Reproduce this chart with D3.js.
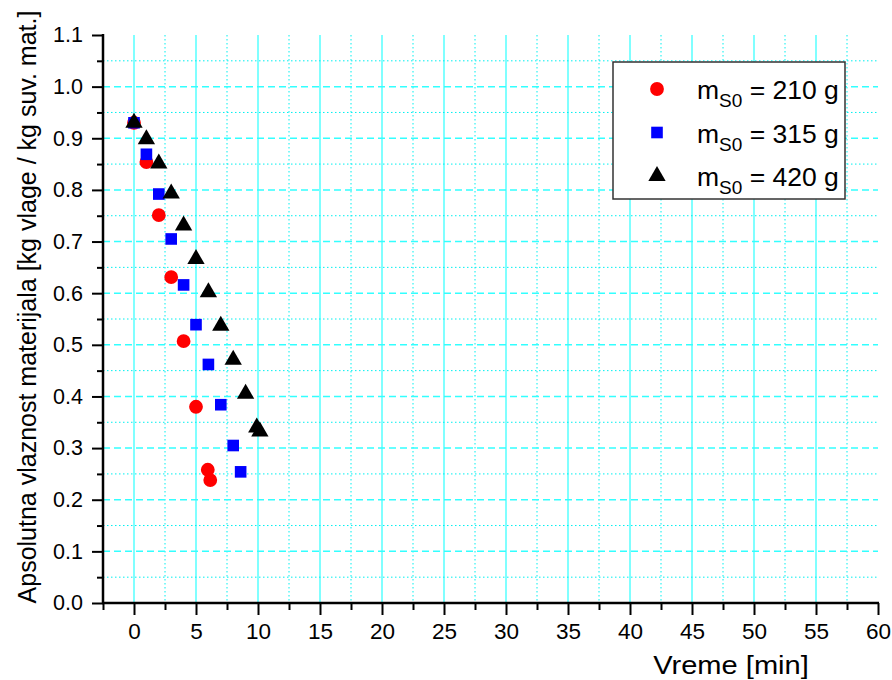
<!DOCTYPE html>
<html>
<head>
<meta charset="utf-8">
<script src="https://cdn.jsdelivr.net/npm/d3@7"></script>
<style>
  body { margin: 0; background: #fff; }
  text { font-family: Arial, "Liberation Sans", sans-serif; }
</style>
</head>
<body>
<div class="chart"></div>
<script>
// Data.
var time210 = [0, 1, 2, 3, 4, 5, 5.95, 6.15];
var moist210 = [0.93, 0.854, 0.751, 0.631, 0.507, 0.380, 0.258, 0.238];

var time315 = [0, 1, 2, 3, 4, 5, 6, 7, 8, 8.6];
var moist315 = [0.93, 0.869, 0.792, 0.705, 0.616, 0.539, 0.462, 0.384, 0.305, 0.254];

var time420 = [0, 1, 2, 3, 4, 5, 6, 7, 8, 9, 9.9, 10.15];
var moist420 = [0.93, 0.898, 0.851, 0.793, 0.731, 0.666, 0.602, 0.537, 0.471, 0.405, 0.340, 0.332];

var seriesNames = ["210 g", "315 g", "420 g"];
var xTicks = [0, 5, 10, 15, 20, 25, 30, 35, 40, 45, 50, 55, 60];
var yTicks = [0.0, 0.1, 0.2, 0.3, 0.4, 0.5, 0.6, 0.7, 0.8, 0.9, 1.0, 1.1];

// Define SVG dimensions.
var w = 892,
    h = 680;

var plotLeft = 103, plotRight = 878, plotTop = 35, plotBottom = 603;

var svg = d3.select(".chart").append("svg")
  .attr("width", w)
  .attr("height", h);

var xScale = d3.scaleLinear()
  .domain([-2.5, 60])
  .range([plotLeft, plotRight]);

var yScale = d3.scaleLinear()
  .domain([0, 1.1])
  .range([plotBottom, plotTop]);

var xMinor = d3.range(-2.5, 60, 5);
var yMinor = d3.range(0.05, 1.1, 0.1);

// Grid lines.
var grid = svg.append("g");

grid.selectAll(".vmin")
  .data(xMinor.filter(function(d) { return d > 0; }))
  .enter().append("line")
  .attr("x1", function(d) { return xScale(d); })
  .attr("x2", function(d) { return xScale(d); })
  .attr("y1", plotTop)
  .attr("y2", plotBottom)
  .attr("stroke", "#00f0f0")
  .attr("stroke-width", 1)
  .attr("stroke-dasharray", "1.5,2.5");

grid.selectAll(".vmaj")
  .data(xTicks.filter(function(d) { return d < 60; }))
  .enter().append("line")
  .attr("x1", function(d) { return xScale(d); })
  .attr("x2", function(d) { return xScale(d); })
  .attr("y1", plotTop)
  .attr("y2", plotBottom)
  .attr("stroke", "#80ffff")
  .attr("stroke-width", 2);

grid.selectAll(".hmin")
  .data(yMinor)
  .enter().append("line")
  .attr("x1", plotLeft)
  .attr("x2", plotRight)
  .attr("y1", function(d) { return yScale(d); })
  .attr("y2", function(d) { return yScale(d); })
  .attr("stroke", "#00f0f0")
  .attr("stroke-width", 1)
  .attr("stroke-dasharray", "1.5,2.5");

grid.selectAll(".hmaj")
  .data(yTicks.filter(function(d) { return d > 0 && d < 1.1; }))
  .enter().append("line")
  .attr("x1", plotLeft)
  .attr("x2", plotRight)
  .attr("y1", function(d) { return yScale(d); })
  .attr("y2", function(d) { return yScale(d); })
  .attr("stroke", "#33ffff")
  .attr("stroke-width", 1.5)
  .attr("stroke-dasharray", "7,4");

// Axes.
var xAxis = d3.axisBottom(xScale)
  .tickValues(xTicks)
  .tickSize(12)
  .tickPadding(8)
  .tickFormat(d3.format("d"));

var xAxisMinor = d3.axisBottom(xScale)
  .tickValues(xMinor)
  .tickSize(7)
  .tickFormat("");

var yAxis = d3.axisLeft(yScale)
  .tickValues(yTicks)
  .tickSize(11)
  .tickPadding(9)
  .tickFormat(d3.format(".1f"));

var yAxisMinor = d3.axisLeft(yScale)
  .tickValues(yMinor)
  .tickSize(6)
  .tickFormat("");

function styleAxis(size) {
  return function(g) {
    g.select(".domain").remove();
    g.selectAll("line").attr("stroke", "#000").attr("stroke-width", 2);
    g.selectAll("text")
      .attr("fill", "#000")
      .style("font-family", "Arial, 'Liberation Sans', sans-serif")
      .style("font-size", size + "px");
  };
}

svg.append("g")
  .attr("transform", "translate(0," + plotBottom + ")")
  .call(xAxisMinor).call(styleAxis(22));
svg.append("g")
  .attr("transform", "translate(0," + plotBottom + ")")
  .call(xAxis).call(styleAxis(22.5));
svg.append("g")
  .attr("transform", "translate(" + plotLeft + ",0)")
  .call(yAxisMinor).call(styleAxis(21));
svg.append("g")
  .attr("transform", "translate(" + plotLeft + ",0)")
  .call(yAxis).call(styleAxis(21.5));

// Axis lines.
svg.append("line")
  .attr("x1", plotLeft - 1).attr("x2", plotRight + 1)
  .attr("y1", plotBottom).attr("y2", plotBottom)
  .attr("stroke", "#000").attr("stroke-width", 2.5);
svg.append("line")
  .attr("x1", plotLeft).attr("x2", plotLeft)
  .attr("y1", plotTop - 1).attr("y2", plotBottom + 1)
  .attr("stroke", "#000").attr("stroke-width", 2.5);

// Axis titles.
svg.append("text")
  .attr("transform", "translate(731,674) scale(1.14,1)")
  .style("text-anchor", "middle")
  .style("font-size", "25.5px")
  .text("Vreme [min]");

svg.append("text")
  .attr("transform", "translate(36,307) rotate(-90)")
  .style("text-anchor", "middle")
  .style("font-size", "25px")
  .text("Apsolutna vlaznost materijala [kg vlage / kg suv. mat.]");

// Points.
var symCircle = d3.symbol().type(d3.symbolCircle).size(150);
var symSquare = d3.symbol().type(d3.symbolSquare).size(135);
var symTriangle = d3.symbol().type(d3.symbolTriangle).size(130);

var series = [
  { t: time210, m: moist210, sym: symCircle, color: "#ff0000" },
  { t: time315, m: moist315, sym: symSquare, color: "#0000ff" },
  { t: time420, m: moist420, sym: symTriangle, color: "#000000" }
];

series.forEach(function(s) {
  svg.append("g").selectAll("path")
    .data(d3.range(s.t.length))
    .enter()
    .append("path")
    .attr("d", s.sym)
    .attr("transform", function(i) {
      return "translate(" + xScale(s.t[i]) + "," + yScale(s.m[i]) + ")";
    })
    .attr("fill", s.color);
});

// Legend.
var legend = svg.append("g");

legend.append("rect")
  .attr("x", 613)
  .attr("y", 62)
  .attr("width", 232)
  .attr("height", 137)
  .attr("fill", "#fff")
  .attr("stroke", "#333")
  .attr("stroke-width", 1.5);

series.forEach(function(s, i) {
  var yy = 89 + i * 43.5;
  legend.append("path")
    .attr("d", s.sym)
    .attr("transform", "translate(657," + yy + ")")
    .attr("fill", s.color);

  var label = legend.append("text")
    .attr("x", 697)
    .attr("y", yy + 10)
    .style("font-size", "26.5px");
  label.append("tspan").text("m");
  label.append("tspan")
    .attr("dy", 8)
    .style("font-size", "19px")
    .text("S0");
  label.append("tspan")
    .attr("dy", -8)
    .text(" = " + seriesNames[i]);
});
</script>
</body>
</html>
